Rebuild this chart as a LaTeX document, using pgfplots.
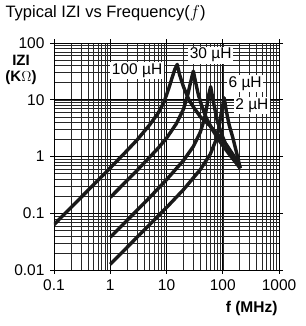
\documentclass[border=0pt]{standalone}
\usepackage{fontspec}
\setmainfont{Liberation Sans}
\usepackage{pgfplots}
\pgfplotsset{compat=1.18}
\begin{document}
\begin{tikzpicture}
\useasboundingbox (-54pt,-56pt) rectangle (251pt,270pt);
\begin{axis}[
  at={(0pt,0pt)}, anchor=south west,
  scale only axis, width=225pt, height=227pt,
  xmode=log, ymode=log,
  xmin=0.1, xmax=1000, ymin=0.01, ymax=100,
  xtick={0.1,1,10,100,1000},
  xticklabels={0.1,1,10,100,1000},
  ytick={0.01,0.1,1,10,100},
  yticklabels={0.01,0.1,1,10,100},
  tick align=outside,
  major tick length=4pt,
  minor tick length=0pt,
  tick style={black, line width=0.6pt},
  grid=both,
  major grid style={black, line width=0.7pt},
  minor grid style={black!85, line width=0.5pt},
  axis line style={black, line width=0.6pt},
  ticklabel style={font=\fontsize{15.5}{18}\selectfont},
  xticklabel style={yshift=-2pt},
  yticklabel style={xshift=-2pt},
  clip=true,
]
\addplot[black!90, line width=3.4pt, line join=round] coordinates {
 (0.1,0.063) (0.2,0.126) (0.5,0.315) (1,0.63) (2,1.28) (3,1.96) (5,3.6) (7,5.7) (9,9)
 (11,16) (12.5,24) (14,34) (15.5,42)
 (17,28) (20,17) (25,10) (30,7.5) (40,5) (59,3.5) (80,2.5) (117,1.6) (160,1.0) (205,0.62)
};
\addplot[black!90, line width=3.4pt, line join=round] coordinates {
 (1,0.19) (2,0.38) (3,0.57) (5,0.97) (7,1.38) (10,2.1) (15,3.8) (20,6.8) (24,12.5) (27,21) (30,32)
 (33,20) (37,12) (42,8) (50,5) (65,3) (90,1.8) (130,1.1) (205,0.62)
};
\addplot[black!90, line width=3.4pt, line join=round] coordinates {
 (1,0.0377) (2,0.0754) (3,0.113) (5,0.189) (10,0.39) (20,0.85) (30,1.5) (40,2.7) (47,4.5) (52,7.5) (56,12) (61,17)
 (66,11) (72,7) (80,4.2) (100,2.2) (130,1.2) (165,0.85) (205,0.62)
};
\addplot[black!90, line width=3.4pt, line join=round] coordinates {
 (1,0.0126) (2,0.0252) (5,0.063) (10,0.126) (20,0.26) (40,0.59) (60,1.1) (75,1.9) (85,3.1) (93,5.5) (100,8) (106,10.8)
 (115,6.5) (130,3.6) (150,2.2) (175,1.2) (205,0.62)
};
\node[fill=white, inner sep=1.5pt, font=\fontsize{15.5}{18}\selectfont] at (axis cs:3,33) {100 µH};
\node[fill=white, inner sep=1.5pt, font=\fontsize{15.5}{18}\selectfont] at (axis cs:61,61) {30 µH};
\node[fill=white, inner sep=1.5pt, font=\fontsize{15.5}{18}\selectfont] at (axis cs:250,19.5) {6 µH};
\node[fill=white, inner sep=1.5pt, font=\fontsize{15.5}{18}\selectfont] at (axis cs:330,8) {2 µH};
\end{axis}
\node[anchor=west, font=\fontsize{16.5}{19}\selectfont] at (-52pt,257pt) {Typical IZI vs Frequency($f$)};
\node[font=\bfseries\fontsize{15}{17}\selectfont, align=center] at (-33pt,200pt) {IZI\\[-1pt](K$\Omega$)};
\node[anchor=east, font=\bfseries\fontsize{15.5}{18}\selectfont] at (227pt,-38pt) {f (MHz)};
\end{tikzpicture}
\end{document}
